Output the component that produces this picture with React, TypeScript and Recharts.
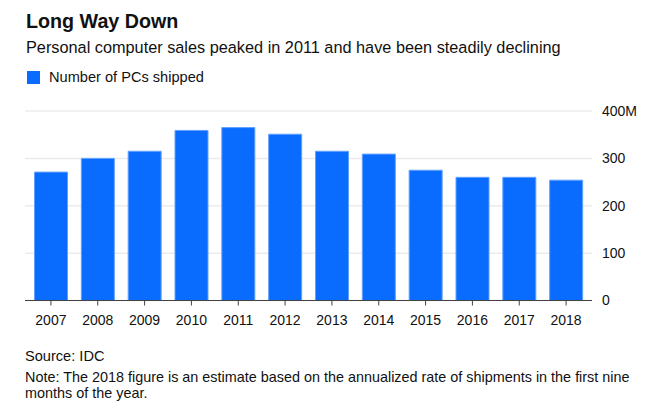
import React from 'react';
import { BarChart, Bar, XAxis, YAxis, CartesianGrid } from 'recharts';

const years = ['2007', '2008', '2009', '2010', '2011', '2012', '2013', '2014', '2015', '2016', '2017', '2018'];
const shipments = [271, 300, 315, 359, 365, 351, 315, 309, 275, 260, 260, 254];
const yTicks = [0, 100, 200, 300, 400];
const yTickLabels = ['0', '100', '200', '300', '400M'];

const data = years.map((y, i) => ({ year: y, value: shipments[i] }));

const FONT = '"Liberation Sans", Arial, Helvetica, sans-serif';
const BLUE = '#0a6cff';

const YTick = (props: any) => {
  const { x, y, payload } = props;
  const idx = yTicks.indexOf(payload.value);
  return (
    <text x={x} y={y} dy="0.35em" textAnchor="start" fontSize={14} fill="#111" fontFamily={FONT}>
      {idx >= 0 ? yTickLabels[idx] : payload.value}
    </text>
  );
};

export default function App() {
  return (
    <div style={{ position: 'absolute', left: 0, top: 0, width: 660, height: 415, background: '#fff', fontFamily: FONT, color: '#111' }}>
      <div style={{ position: 'absolute', left: 26, top: 9, fontSize: 19.7, fontWeight: 'bold', lineHeight: '24px', whiteSpace: 'nowrap' }}>
        Long Way Down
      </div>
      <div style={{ position: 'absolute', left: 26, top: 37, fontSize: 16.3, lineHeight: '20px', whiteSpace: 'nowrap' }}>
        Personal computer sales peaked in 2011 and have been steadily declining
      </div>
      <div style={{ position: 'absolute', left: 27, top: 70, height: 14, display: 'flex', alignItems: 'center', whiteSpace: 'nowrap' }}>
        <span style={{ display: 'inline-block', width: 13, height: 13, background: BLUE, marginRight: 9 }} />
        <span style={{ fontSize: 14.6, lineHeight: '14px' }}>Number of PCs shipped</span>
      </div>
      <div style={{ position: 'absolute', left: 0, top: 0 }}>
        <BarChart
          width={660}
          height={415}
          data={data}
          margin={{ top: 111, right: 8, bottom: 84.5, left: 25 }}
        >
          <CartesianGrid vertical={false} stroke="#ececec" strokeWidth={1.5} />
          <XAxis
            dataKey="year"
            padding={{ left: 2.5, right: 2.5 }}
            axisLine={{ stroke: '#444', strokeWidth: 1.2 }}
            tickLine={{ stroke: '#444' }}
            tickSize={5}
            tickMargin={9.5}
            height={30}
            interval={0}
            tick={{ fontSize: 14, fill: '#111', fontFamily: FONT }}
          />
          <YAxis
            orientation="right"
            domain={[0, 400]}
            ticks={yTicks}
            axisLine={false}
            tickLine={false}
            tickSize={0}
            tickMargin={10}
            width={60}
            tick={<YTick />}
          />
          <Bar dataKey="value" fill={BLUE} stroke="#62a0ff" strokeWidth={1} barSize={33} isAnimationActive={false} />
        </BarChart>
      </div>
      <div style={{ position: 'absolute', left: 25, top: 347, fontSize: 14.6, lineHeight: '19px', whiteSpace: 'nowrap' }}>
        Source: IDC
      </div>
      <div style={{ position: 'absolute', left: 25, top: 369, fontSize: 14.4, lineHeight: '16px', whiteSpace: 'nowrap' }}>
        Note: The 2018 figure is an estimate based on the annualized rate of shipments in the first nine
        <br />
        months of the year.
      </div>
    </div>
  );
}
